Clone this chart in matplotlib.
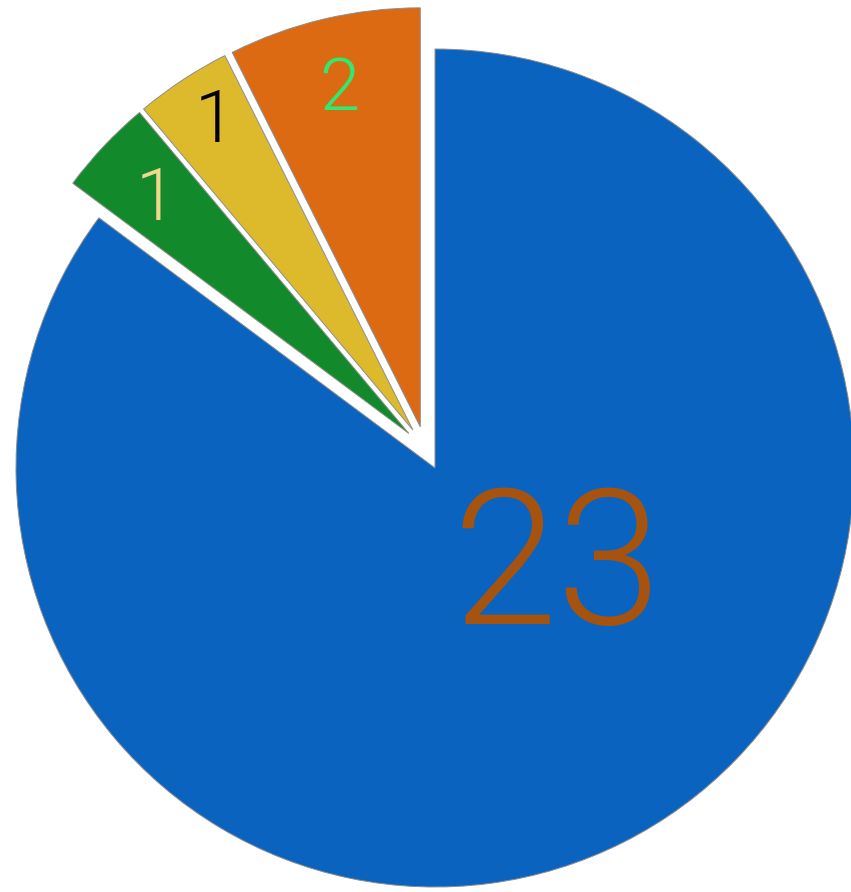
import numpy as np
import matplotlib
matplotlib.use("Agg")
import matplotlib.pyplot as plt

# data (counter-clockwise from 12 o'clock)
labels = ["2", "1", "1", "23"]
values = [2, 1, 1, 23]
colors = ["#DC6A12", "#DDBA2B", "#128A2B", "#0A63BF"]
label_colors = ["#2EEA70", "#000000", "#F0D98C", "#A5530F"]
explode = [0.055, 0.055, 0.055, 0.0]

W, H = 851, 892
fig = plt.figure(figsize=(W / 100, H / 100), dpi=100)
ax = fig.add_axes([0, 0, 1, 1])

R = 419.0
cx, cy = 435.0, 468.0

wedges, _ = ax.pie(values, colors=colors, startangle=90, counterclock=True,
                   explode=explode, radius=1.0,
                   wedgeprops=dict(edgecolor="#8d8d8d", linewidth=0.7))

# the three small slices are additionally pulled out together as a group
small = wedges[:3]
g_ang = np.deg2rad((small[0].theta1 + small[-1].theta2) / 2)
g_shift = 0.05
for w in small:
    x0, y0 = w.center
    w.set_center((x0 + g_shift * np.cos(g_ang), y0 + g_shift * np.sin(g_ang)))

ax.set_xlim(-cx / R, (W - cx) / R)
ax.set_ylim(-(H - cy) / R, cy / R)
ax.set_aspect("auto")
ax.axis("off")

dist = [0.84, 0.885, 0.83]
sizes = [52, 52, 52, 136]
fam = ["Roboto", "DejaVu Sans"]
for i, (w, lab, col, s) in enumerate(zip(wedges, labels, label_colors, sizes)):
    half = 0.355 * s * (100 / 72) / R
    if i < 3:
        th = np.deg2rad((w.theta1 + w.theta2) / 2 - (1.0 if i == 1 else 0.0))
        x0, y0 = w.center
        tx, ty = x0 + dist[i] * np.cos(th), y0 + dist[i] * np.sin(th)
    else:
        tx, ty = 122 / R, -89 / R
    ax.text(tx, ty - half, lab, color=col, fontsize=s, ha="center", va="baseline",
            family=fam, fontweight=300)

fig.savefig("out.png", dpi=100)
